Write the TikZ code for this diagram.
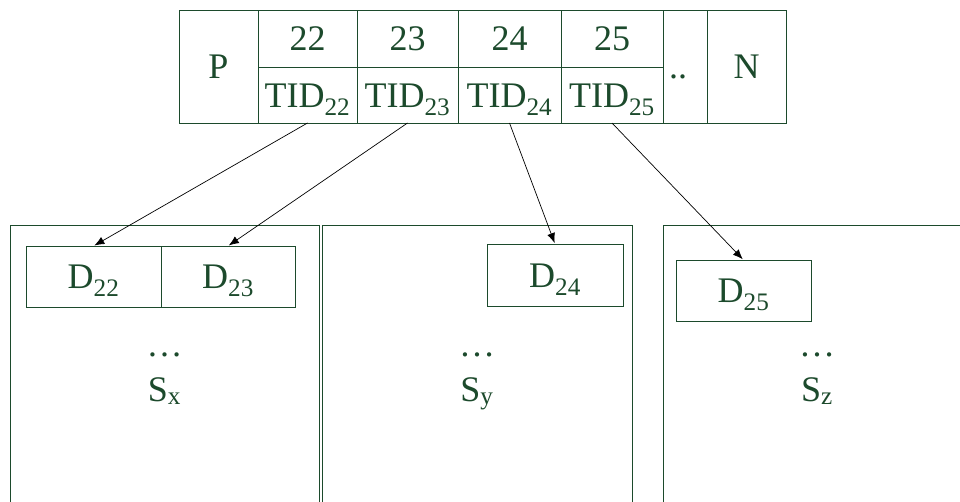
\documentclass[tikz,border=0pt]{standalone}
\usepackage{fontspec}
\setmainfont{Liberation Serif}
\usepackage{tikz}
\usetikzlibrary{positioning}
\usetikzlibrary{arrows.meta}
\definecolor{dgreen}{RGB}{28,74,44}

\begin{document}
\begin{tikzpicture}[x=1pt,y=-1pt,
    txt/.style={text=dgreen,font=\fontsize{36}{40}\selectfont,inner sep=0pt},
    cell/.style={txt,draw=dgreen,line width=1pt,outer sep=0pt,text height=24pt,text depth=0pt},
    sbox/.style={draw=dgreen,line width=1pt,minimum height=306pt,inner sep=0pt}]
  \useasboundingbox (0,0) rectangle (960,501);
  \clip (0,0) rectangle (960,501);
  \node[cell,minimum width=79pt,minimum height=113pt] (p) at (218.5,66.5) {P};
  \foreach \k/\x/\w in {22/307.5/99,23/407.5/101,24/509.5/103,25/612/102}{
    \node[cell,minimum width=\w pt,minimum height=57pt] (n\k) at (\x,38.5) {\k};
    \node[cell,minimum width=\w pt,minimum height=56pt] (t\k) at (\x,95) {TID\textsubscript{\k}};
  }
  \node[cell,minimum width=44pt,minimum height=113pt,text width=32pt,align=left] (more) at (685,66.5) {..};
  \node[cell,minimum width=79pt,minimum height=113pt] (n) at (746.5,66.5) {N};
  \node[sbox,minimum width=309pt] (sx) at (164.5,378) {};
  \node[sbox,minimum width=310pt] (sy) at (477,378) {};
  \node[sbox,minimum width=308pt] (sz) at (817,378) {};
  \node[cell,minimum width=135pt,minimum height=61pt] (d22) at (93.5,276.5) {D\textsubscript{22}};
  \node[cell,minimum width=134pt,minimum height=61pt] (d23) at (228,276.5) {D\textsubscript{23}};
  \node[cell,minimum width=136pt,minimum height=62pt] (d24) at (555,275) {D\textsubscript{24}};
  \node[cell,minimum width=135pt,minimum height=61pt] (d25) at (743.5,290.5) {D\textsubscript{25}};
  \node[txt,anchor=base] (ex) at (164.5,356) {…};
  \node[txt,anchor=base] (lx) at (164.5,401) {S\textsubscript{x}};
  \node[txt,anchor=base] (ey) at (477,356) {…};
  \node[txt,anchor=base] (ly) at (477,401) {S\textsubscript{y}};
  \node[txt,anchor=base] (ez) at (817,356) {…};
  \node[txt,anchor=base] (lz) at (817,401) {S\textsubscript{z}};
  \path[-{Latex[length=10pt,width=8pt]},line width=0.7pt,shorten >=1pt]
    (t22.south) edge (d22.north)
    (t23.south) edge (d23.north)
    (t24.south) edge (d24.north)
    (t25.south) edge (d25.north)
    ;
\end{tikzpicture}
\end{document}
